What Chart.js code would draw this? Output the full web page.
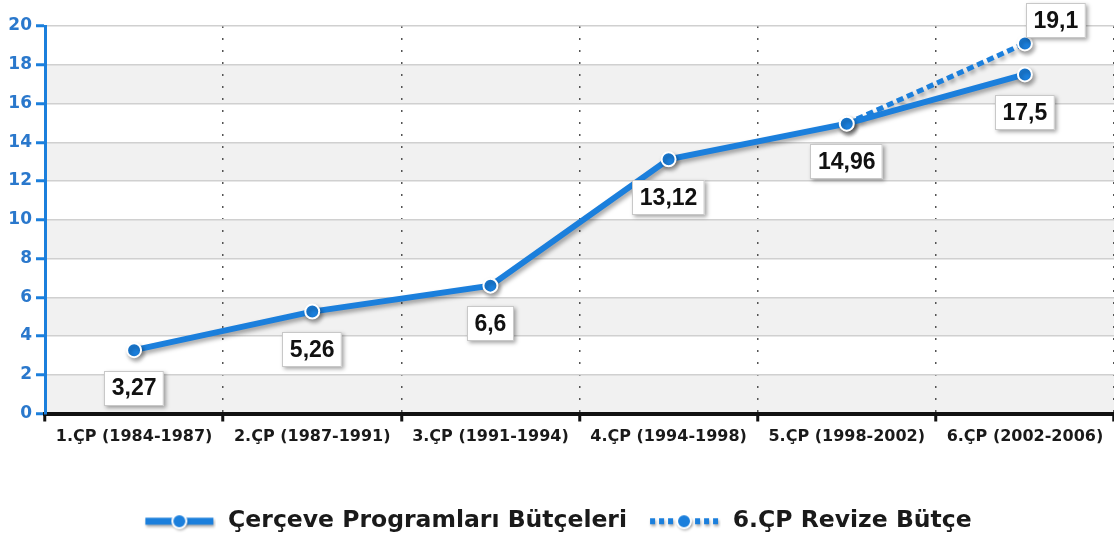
<!DOCTYPE html>
<html>
<head>
<meta charset="utf-8">
<script src="https://cdn.jsdelivr.net/npm/chart.js@4.4.1/dist/chart.umd.min.js"></script>
<style>
  html, body { margin: 0; padding: 0; background: #fff; }
  #wrap { width: 1114px; height: 545px; }
</style>
</head>
<body>
<div id="wrap"><canvas id="chart"></canvas></div>
<script>
// data
const programmes = ['1.ÇP (1984-1987)', '2.ÇP (1987-1991)', '3.ÇP (1991-1994)', '4.ÇP (1994-1998)', '5.ÇP (1998-2002)', '6.ÇP (2002-2006)'];
const budgets = [3.27, 5.26, 6.6, 13.12, 14.96, 17.5];
const revisedBudget = [null, null, null, null, 14.96, 19.1];
const seriesNames = ['Çerçeve Programları Bütçeleri', '6.ÇP Revize Bütçe'];
const yMin = 0, yMax = 20, yStep = 2;

const blue = '#1b7fdc';

function legendIcon(dashed) {
    const c = document.createElement('canvas');
    c.width = 74; c.height = 24;
    const g = c.getContext('2d');
    g.shadowColor = 'rgba(0,0,0,0.35)';
    g.shadowBlur = 3; g.shadowOffsetX = 1; g.shadowOffsetY = 2;
    g.strokeStyle = blue;
    g.lineWidth = dashed ? 6 : 7;
    if (dashed) g.setLineDash([5, 4]);
    g.beginPath();
    g.moveTo(3, 12);
    g.lineTo(71, 12);
    g.stroke();
    g.setLineDash([]);
    g.beginPath();
    g.arc(37, 12, 7, 0, Math.PI * 2);
    g.fillStyle = blue;
    g.fill();
    g.shadowColor = 'transparent';
    g.lineWidth = 2;
    g.strokeStyle = '#fff';
    g.stroke();
    return c;
}

// alternating grey bands behind the grid
const bands = {
    id: 'bands',
    beforeDraw(chart) {
        const { ctx, chartArea: a, scales: { y } } = chart;
        ctx.save();
        ctx.fillStyle = '#f1f1f1';
        for (let v = yMin; v < yMax; v += yStep * 2) {
            const top = y.getPixelForValue(v + yStep);
            const bottom = y.getPixelForValue(v);
            ctx.fillRect(a.left, top, a.right - a.left, bottom - top);
        }
        ctx.restore();
    }
};

// drop shadow under the lines
const lineShadow = {
    id: 'lineShadow',
    beforeDatasetsDraw(chart) {
        const ctx = chart.ctx;
        ctx.save();
        ctx.shadowColor = 'rgba(0,0,0,0.35)';
        ctx.shadowBlur = 4;
        ctx.shadowOffsetX = 2;
        ctx.shadowOffsetY = 3;
    },
    afterDatasetsDraw(chart) {
        chart.ctx.restore();
    }
};

// boxed value labels
const valueLabels = {
    id: 'valueLabels',
    afterDatasetsDraw(chart) {
        const ctx = chart.ctx;
        chart.data.datasets.forEach((ds, di) => {
            const meta = chart.getDatasetMeta(di);
            meta.data.forEach((pt, i) => {
                const v = ds.data[i];
                if (v == null) return;
                if (di > 0 && v === budgets[i]) return;
                const text = String(v).replace('.', ',');
                ctx.save();
                ctx.font = 'bold 23px "Liberation Sans", Arial, sans-serif';
                const w = ctx.measureText(text).width + 15;
                const h = 35;
                let cx = pt.x, cy = pt.y + 38;
                if (ds.labelAbove) { cx = pt.x + 31; cy = pt.y - 23; }
                const x = Math.round(cx - w / 2), y = Math.round(cy - h / 2);
                ctx.shadowColor = 'rgba(0,0,0,0.35)';
                ctx.shadowBlur = 4;
                ctx.shadowOffsetX = 2;
                ctx.shadowOffsetY = 2;
                ctx.fillStyle = '#fff';
                ctx.fillRect(x, y, w, h);
                ctx.shadowColor = 'transparent';
                ctx.strokeStyle = '#c8c8c8';
                ctx.lineWidth = 1;
                ctx.strokeRect(x + 0.5, y + 0.5, w - 1, h - 1);
                ctx.fillStyle = '#111';
                ctx.textAlign = 'center';
                ctx.textBaseline = 'middle';
                ctx.fillText(text, cx, cy + 1);
                ctx.restore();
            });
        });
    }
};

const ctx = document.getElementById('chart').getContext('2d');
const chart = new Chart(ctx, {
    type: 'line',
    data: {
        labels: programmes,
        datasets: [{
            label: seriesNames[0],
            data: budgets,
            borderColor: blue,
            backgroundColor: blue,
            borderWidth: 6,
            pointRadius: 7,
            pointBorderWidth: 2,
            pointBorderColor: '#fff',
            pointBackgroundColor: blue,
            legendIcon: legendIcon(false)
        }, {
            label: seriesNames[1],
            data: revisedBudget,
            borderColor: blue,
            backgroundColor: blue,
            borderWidth: 5,
            borderDash: [7, 4],
            pointRadius: 7,
            pointBorderWidth: 2,
            pointBorderColor: '#fff',
            pointBackgroundColor: blue,
            labelAbove: true,
            legendIcon: legendIcon(true)
        }]
    },
    options: {
        responsive: true,
        maintainAspectRatio: false,
        animation: false,
        layout: { autoPadding: false, padding: { top: 26, right: 0, bottom: 2, left: 0 } },
        plugins: {
            tooltip: { enabled: false },
            legend: {
                position: 'bottom',
                labels: {
                    usePointStyle: true,
                    pointStyleWidth: 74,
                    padding: 20,
                    color: '#1a1a1a',
                    font: { family: '"DejaVu Sans", sans-serif', size: 23.5, weight: 'bold' },
                    generateLabels(chart) {
                        const items = Chart.defaults.plugins.legend.labels.generateLabels(chart);
                        items.forEach(it => { it.pointStyle = chart.data.datasets[it.datasetIndex].legendIcon; });
                        return items;
                    }
                }
            }
        },
        scales: {
            x: {
                offset: true,
                afterFit(s) { s.height = 76; s.paddingRight = 0; s.paddingLeft = 0; },
                grid: {
                    offset: true,
                    color: '#555',
                    lineWidth: 1.5,
                    tickLength: 8,
                    tickColor: '#111',
                    tickWidth: 3
                },
                border: { color: '#111', width: 4, dash: [2, 10] },
                ticks: {
                    color: '#1a1a1a',
                    padding: 6,
                    maxRotation: 0,
                    font: { family: '"DejaVu Sans", sans-serif', size: 16, weight: 'bold' }
                }
            },
            y: {
                min: yMin,
                max: yMax,
                afterFit(s) { s.width = 45; },
                grid: {
                    color: '#d0d0d0',
                    lineWidth: 1.5,
                    tickLength: 9,
                    tickColor: blue,
                    tickWidth: 3
                },
                border: { color: blue, width: 3 },
                ticks: {
                    stepSize: yStep,
                    color: '#2a78cc',
                    padding: 4,
                    font: { family: '"DejaVu Sans", sans-serif', size: 17, weight: 'bold' }
                }
            }
        }
    },
    plugins: [bands, lineShadow, valueLabels]
});
</script>
</body>
</html>
